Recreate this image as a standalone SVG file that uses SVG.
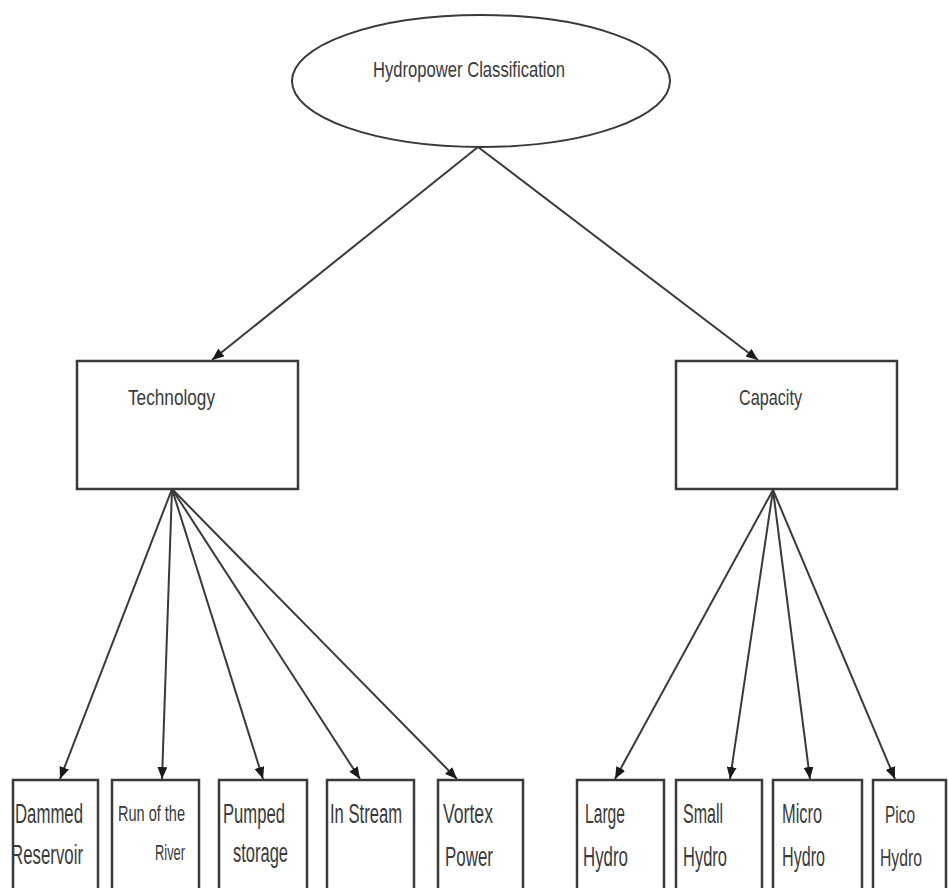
<svg xmlns="http://www.w3.org/2000/svg" width="948" height="888" viewBox="0 0 948 888">
<style>
.box{fill:#fff;stroke:#3a3a3a;stroke-width:2.5}
.lbl{font-family:"Liberation Sans Narrow","Liberation Sans",Arial,sans-serif;font-size:27px;fill:#3a3a3a}
.sm{font-size:22px}
.pc{font-size:24px}
.conn{stroke:#3a3a3a;stroke-width:2;fill:none;marker-end:url(#ah)}
</style>
<defs>
<marker id="ah" viewBox="0 0 12 10" refX="12" refY="5" markerWidth="12" markerHeight="10" markerUnits="userSpaceOnUse" orient="auto">
<path d="M0,0 L12,5 L0,10 Z" fill="#1a1a1a"/>
</marker>
</defs>
<rect width="948" height="888" fill="#fff"/>
<g id="connectors">
<line class="conn" x1="478" y1="147" x2="212" y2="360"/>
<line class="conn" x1="478" y1="147" x2="758" y2="360"/>
<line class="conn" x1="172" y1="489" x2="60" y2="779"/>
<line class="conn" x1="172" y1="489" x2="162" y2="779"/>
<line class="conn" x1="172" y1="489" x2="263" y2="779"/>
<line class="conn" x1="172" y1="489" x2="360" y2="779"/>
<line class="conn" x1="172" y1="489" x2="457" y2="779"/>
<line class="conn" x1="773" y1="490" x2="615" y2="779"/>
<line class="conn" x1="773" y1="490" x2="730" y2="779"/>
<line class="conn" x1="773" y1="490" x2="810" y2="779"/>
<line class="conn" x1="773" y1="490" x2="895" y2="779"/>
</g>
<g id="root">
<ellipse cx="481" cy="81" rx="189" ry="66" fill="#fff" stroke="#3a3a3a" stroke-width="2"/>
<text class="lbl sm" x="373" y="77" textLength="192" lengthAdjust="spacingAndGlyphs">Hydropower Classification</text>
</g>
<g id="technology">
<rect class="box" x="77" y="361" width="221" height="128"/>
<text class="lbl sm" x="128" y="405" textLength="87" lengthAdjust="spacingAndGlyphs">Technology</text>
</g>
<g id="capacity">
<rect class="box" x="676" y="361" width="221" height="128"/>
<text class="lbl sm" x="739" y="405" textLength="63" lengthAdjust="spacingAndGlyphs">Capacity</text>
</g>
<g id="dammed">
<rect class="box" x="13" y="780" width="85" height="120"/>
<text class="lbl" x="15" y="823" textLength="68" lengthAdjust="spacingAndGlyphs">Dammed</text>
<text class="lbl" x="11" y="864" textLength="72" lengthAdjust="spacingAndGlyphs">Reservoir</text>
</g>
<g id="runriver">
<rect class="box" x="112" y="780" width="87" height="120"/>
<text class="lbl sm" x="118" y="821" textLength="67" lengthAdjust="spacingAndGlyphs">Run of the</text>
<text class="lbl sm" x="155" y="860" textLength="30" lengthAdjust="spacingAndGlyphs">River</text>
</g>
<g id="pumped">
<rect class="box" x="219" y="780" width="88" height="120"/>
<text class="lbl" x="223" y="823" textLength="62" lengthAdjust="spacingAndGlyphs">Pumped</text>
<text class="lbl" x="233" y="862" textLength="55" lengthAdjust="spacingAndGlyphs">storage</text>
</g>
<g id="instream">
<rect class="box" x="327" y="780" width="87" height="120"/>
<text class="lbl" x="330" y="823" textLength="72" lengthAdjust="spacingAndGlyphs">In Stream</text>
</g>
<g id="vortex">
<rect class="box" x="438" y="780" width="85" height="120"/>
<text class="lbl" x="443" y="823" textLength="50" lengthAdjust="spacingAndGlyphs">Vortex</text>
<text class="lbl" x="445" y="866" textLength="48" lengthAdjust="spacingAndGlyphs">Power</text>
</g>
<g id="large">
<rect class="box" x="577" y="780" width="87" height="120"/>
<text class="lbl" x="585" y="823" textLength="40" lengthAdjust="spacingAndGlyphs">Large</text>
<text class="lbl" x="583" y="866" textLength="45" lengthAdjust="spacingAndGlyphs">Hydro</text>
</g>
<g id="small">
<rect class="box" x="676" y="780" width="86" height="120"/>
<text class="lbl" x="683" y="823" textLength="40" lengthAdjust="spacingAndGlyphs">Small</text>
<text class="lbl" x="683" y="866" textLength="44" lengthAdjust="spacingAndGlyphs">Hydro</text>
</g>
<g id="micro">
<rect class="box" x="773" y="780" width="89" height="120"/>
<text class="lbl" x="782" y="823" textLength="40" lengthAdjust="spacingAndGlyphs">Micro</text>
<text class="lbl" x="782" y="866" textLength="43" lengthAdjust="spacingAndGlyphs">Hydro</text>
</g>
<g id="pico">
<rect class="box" x="873" y="780" width="73" height="120"/>
<text class="lbl pc" x="885" y="823" textLength="30" lengthAdjust="spacingAndGlyphs">Pico</text>
<text class="lbl pc" x="880" y="866" textLength="42" lengthAdjust="spacingAndGlyphs">Hydro</text>
</g>
</svg>
